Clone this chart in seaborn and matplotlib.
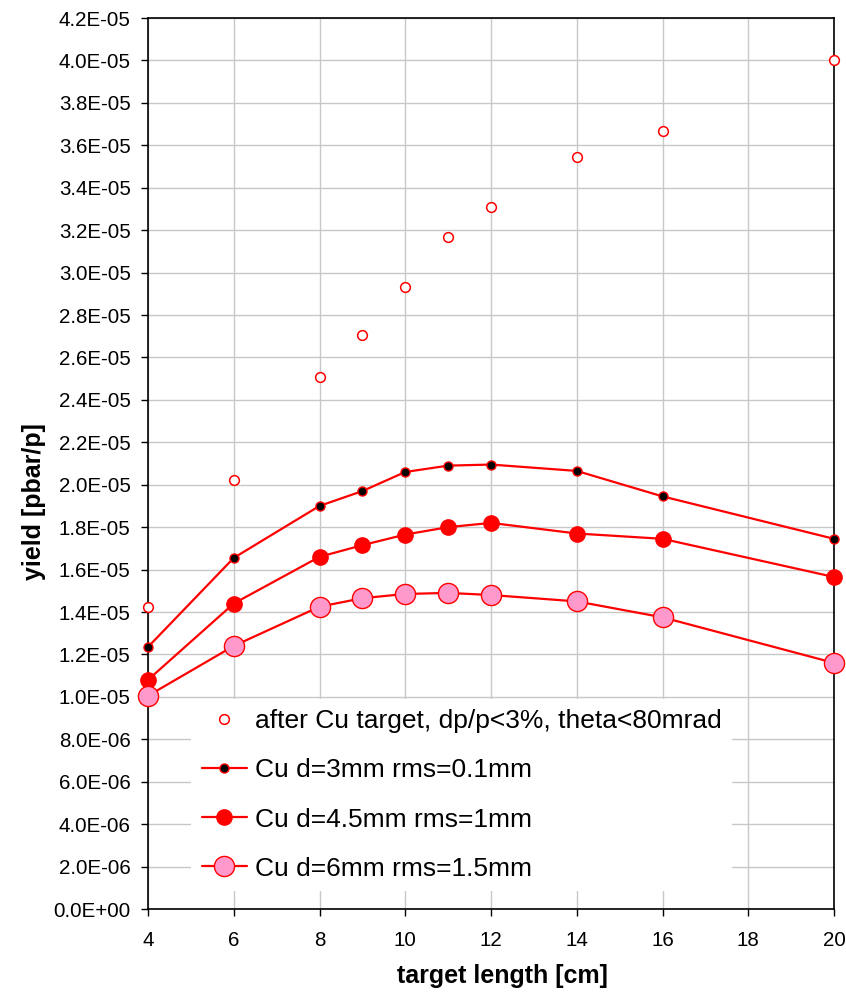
import matplotlib
matplotlib.use("Agg")
import matplotlib.pyplot as plt
import seaborn as sns
import numpy as np
from matplotlib.ticker import FuncFormatter, MultipleLocator
from matplotlib import font_manager

# ---- data ----
x_after = [4, 6, 8, 9, 10, 11, 12, 14, 16, 20]
y_after = [1.425e-5, 2.02e-5, 2.51e-5, 2.705e-5, 2.93e-5, 3.17e-5, 3.31e-5, 3.545e-5, 3.665e-5, 4.0e-5]

x_d3 = [4, 6, 8, 9, 10, 11, 12, 14, 16, 20]
y_d3 = [1.235e-5, 1.655e-5, 1.90e-5, 1.97e-5, 2.06e-5, 2.09e-5, 2.095e-5, 2.065e-5, 1.945e-5, 1.745e-5]

x_d45 = [4, 6, 8, 9, 10, 11, 12, 14, 16, 20]
y_d45 = [1.08e-5, 1.44e-5, 1.66e-5, 1.715e-5, 1.765e-5, 1.80e-5, 1.82e-5, 1.77e-5, 1.745e-5, 1.565e-5]

x_d6 = [4, 6, 8, 9, 10, 11, 12, 14, 16, 20]
y_d6 = [1.005e-5, 1.24e-5, 1.425e-5, 1.465e-5, 1.485e-5, 1.49e-5, 1.48e-5, 1.45e-5, 1.375e-5, 1.16e-5]

labels = ["after Cu target, dp/p<3%, theta<80mrad",
          "Cu d=3mm rms=0.1mm",
          "Cu d=4.5mm rms=1mm",
          "Cu d=6mm rms=1.5mm"]

# ---- style ----
sns.set_style("white")
plt.rcParams['font.family'] = ['Liberation Sans', 'DejaVu Sans']
for k in ['text.color', 'axes.labelcolor', 'xtick.color', 'ytick.color']:
    plt.rcParams[k] = 'black'

names = {f.name for f in font_manager.fontManager.ttflist}
label_family = ['Liberation Sans Narrow', 'Liberation Sans', 'DejaVu Sans'] \
    if 'Liberation Sans Narrow' in names else ['Liberation Sans', 'DejaVu Sans']
label_size = 22.5 if 'Liberation Sans Narrow' in names else 18

fig = plt.figure(figsize=(8.46, 9.96), dpi=100)
ax = fig.add_axes([148/846, 87/996, (834-148)/846, (909-18)/996])

sns.lineplot(x=x_after, y=y_after, ax=ax, color='red', linestyle='none',
             marker='o', markersize=7, markerfacecolor='white',
             markeredgecolor='red', markeredgewidth=1.1, label=labels[0],
             zorder=3, clip_on=False)
sns.lineplot(x=x_d3, y=y_d3, ax=ax, color='red', linewidth=1.6,
             marker='o', markersize=6.5, markerfacecolor='black',
             markeredgecolor='red', markeredgewidth=1.0, label=labels[1],
             zorder=3, clip_on=False)
sns.lineplot(x=x_d45, y=y_d45, ax=ax, color='red', linewidth=1.6,
             marker='o', markersize=11, markerfacecolor='red',
             markeredgecolor='red', markeredgewidth=1.0, label=labels[2],
             zorder=3, clip_on=False)
sns.lineplot(x=x_d6, y=y_d6, ax=ax, color='red', linewidth=1.6,
             marker='o', markersize=14.5, markerfacecolor='#ff99cc',
             markeredgecolor='red', markeredgewidth=1.0, label=labels[3],
             zorder=3, clip_on=False)

ax.set_xlim(4, 20)
ax.set_ylim(0, 4.2e-5)
ax.xaxis.set_major_locator(MultipleLocator(2))
ax.yaxis.set_major_locator(MultipleLocator(0.2e-5))
ax.yaxis.set_major_formatter(FuncFormatter(lambda v, p: f"{v:.1E}"))
ax.grid(True, color='#c8c8c8', linewidth=1.0)
ax.set_axisbelow(True)

for s in ax.spines.values():
    s.set_color('black')
    s.set_linewidth(1.2)
    s.set_visible(True)

ax.tick_params(axis='both', which='major', direction='out', length=5, width=1,
               color='black', labelcolor='black', labelsize=14.8,
               left=True, bottom=True)
ax.tick_params(axis='x', pad=11)
ax.tick_params(axis='y', pad=7.5)
ax.set_xlabel("target length [cm]", fontsize=label_size, fontweight='bold',
              family=label_family)
ax.set_ylabel("yield [pbar/p]", fontsize=label_size, fontweight='bold',
              family=label_family)
ax.xaxis.set_label_coords(0.516, -0.062)
ax.yaxis.set_label_coords(-0.149, 0.457)

leg = ax.legend(loc='lower left', bbox_to_anchor=(0.063, 0.02), borderaxespad=0,
                fontsize=19, frameon=True, fancybox=False, framealpha=1,
                facecolor='white', edgecolor='none', handlelength=1.7,
                labelspacing=0.95, handletextpad=0.3, borderpad=0.4)

fig.savefig("out.png", dpi=100)
